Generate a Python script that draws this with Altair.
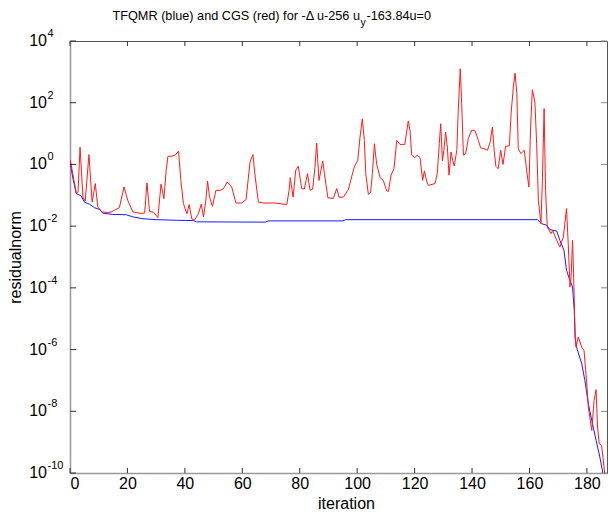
import altair as alt
import pandas as pd

# ---- data (iteration, log10 of residual norm) ----
blue_iter = [0, 1, 2.2, 3.9, 5.0, 6.8, 8.5, 10.3, 11.4, 14.9, 19.6, 21.9, 25.4, 30, 37, 43, 44, 68, 69, 95, 96,
             162.8, 164.2, 166, 167.1, 169.5, 170.6, 172, 172.9, 174.1, 175, 175.6, 175.9, 176.4, 178.2, 179.3,
             180.5, 181.7, 183.2, 184.5, 185.5, 185.8]
blue_exp = [0.1, -0.45, -0.95, -1.02, -1.22, -1.29, -1.40, -1.46, -1.58, -1.62, -1.63, -1.70, -1.76, -1.79, -1.81,
            -1.82, -1.86, -1.87, -1.83, -1.83, -1.79,
            -1.79, -1.92, -1.97, -2.11, -2.16, -2.46, -2.78, -3.43, -3.76, -3.97, -4.73, -5.59, -5.92, -6.46, -7.0,
            -7.75, -8.3, -8.94, -9.48, -9.97, -10.3]

red_iter = [0, 0.4, 2.2, 2.8, 3.5, 4.5, 5.3, 6.6, 7.7, 8.8, 9.7, 11.2, 13.2, 14.3, 15.8, 17.2, 18.8, 20.1, 21.9,
            24.8, 26.0, 26.8, 27.7, 29.1, 30.6, 31.7, 32.7, 33.5, 34.1, 35.5, 36.6, 37.8, 38.6, 39.5, 40.7, 41.5,
            42.4, 43.3, 44.7, 45.7, 46.5, 47.3, 47.9, 48.6, 49.6, 50.8, 52.3, 53.4, 54.8, 56.3, 57.8, 59.8, 61.3,
            62.7, 63.7, 64.5, 65.6, 67.3, 71.4, 75.5, 76.3, 76.7, 77.7, 78.6, 79.5, 80.7, 81.6, 82.7, 83.6, 84.5,
            85.3, 85.9, 86.7, 88.0, 88.6, 89.8, 91.7, 92.9, 93.7, 95.2, 96.9, 99.0, 100.2, 101.0, 101.8, 102.5,
            103.0, 103.9, 104.7, 105.3, 106.0, 106.8, 108, 109.1, 110.3, 110.9, 111.8, 112.8, 113.8, 114.9, 116.6,
            117.8, 118.4, 119.0, 120.1, 120.9, 121.9, 122.8, 123.4, 124.2, 124.8, 127.1, 127.9, 128.6, 129.1,
            129.7, 130.2, 130.8, 131.4, 132.0, 132.7, 133.3, 133.8, 134.7, 135.2, 135.9, 136.4, 137.0, 137.8,
            138.7, 139.9, 141, 142.2, 143.0, 144.5, 145.4, 146.3, 147.1, 147.7, 148.3, 149.1, 150.0, 150.8,
            151.7, 153.0, 153.6, 154.4, 155.0, 155.6, 156.1, 157.0, 158.2, 159.0, 159.8, 160.4, 161.0, 161.9,
            162.5, 163.1, 164.0, 164.5, 165.1, 165.6, 166.2, 167.5, 168.1, 169.5, 170.6, 171.8, 172.9, 173.5,
            174.1, 174.5, 175.0, 175.4, 175.9, 176.2, 177.0, 178.2, 179.0, 179.9, 180.5, 181.7, 182.5, 183.2,
            183.7, 184.3, 185.1, 185.7, 186.3]
red_exp = [0.15, 0.0, -0.95, -0.9, 0.56, -1.06, -1.19, 0.32, -1.22, -0.62, -1.38, -1.54, -1.56, -1.54, -1.47,
           -1.40, -0.73, -1.16, -1.54, -1.59, -1.57, -0.6, -1.52, -1.55, -1.72, -0.64, -1.11, -0.19, 0.26, 0.27,
           0.3, 0.43, -0.52, -1.27, -1.6, -1.3, -1.76, -1.81, -1.6, -1.29, -1.7, -1.16, -0.54, -1.06, -1.36,
           -0.84, -0.84, -0.79, -0.57, -0.73, -1.25, -1.25, -1.14, 0.08, 0.32, -0.41, -1.22, -1.25, -1.25, -1.3,
           -0.84, -0.43, -1.06, -0.19, -0.06, -0.78, -0.8, -0.3, -0.84, -0.8, -0.1, 0.69, -0.52, 0.11, -0.3,
           -1.08, -1.1, -0.78, -1.06, -1.06, -0.82, -0.08, 0.13, 0.89, 1.48, 0.78, -0.3, -0.97, -0.9, -0.3, 0.67,
           0.0, -0.43, -0.52, -0.86, -0.87, -0.35, -0.14, 0.78, 0.65, 0.65, 1.41, 1.11, 0.3, 0.22, 0.3, 0.22,
           -0.52, -0.21, -0.54, -0.68, -0.62, -0.3, 0.67, 1.32, 0.11, 0.46, 1.05, 0.56, -0.35, 0.4, 0.12, -0.05,
           0.46, 1.75, 3.1, 1.97, 0.3, 0.35, 0.84, 1.11, 1.1, 0.78, 0.54, 0.5, 0.46, 0.72, 1.21, 0.46, -0.06,
           -0.14, 0.46, 0.0, 0.59, 0.6, 1.65, 2.51, 2.96, 2.3, 0.51, 0.35, 0.46, -0.19, -0.73, 1.21, 2.42, 2.02,
           0.67, -1.16, -1.92, -0.52, 1.81, -0.84, -2.03, -2.24, -2.14, -2.46, -2.68, -2.35, -1.43, -2.57, -3.97,
           -3.65, -2.46, -3.65, -5.59, -5.92, -5.59, -5.92, -6.03, -7.05, -7.86, -8.62, -7.65, -7.3, -8.51,
           -9.05, -9.1, -9.59, -10.1]

x_ticks = [0, 20, 40, 60, 80, 100, 120, 140, 160, 180]
y_exps = [-10, -8, -6, -4, -2, 0, 2, 4]

title_main = "TFQMR (blue) and CGS (red) for -\u0394 u-256 u"
title_sub = "y"
title_end = "-163.84u=0"

W, H = 537, 432
FONT = "Liberation Sans"

blue = pd.DataFrame({"it": blue_iter, "r": [10 ** e for e in blue_exp]})
red = pd.DataFrame({"it": red_iter, "r": [10 ** e for e in red_exp]})
xt = pd.DataFrame({"t": x_ticks})
yt = pd.DataFrame({"v": [10.0 ** e for e in y_exps], "base": ["10"] * len(y_exps),
                   "exp": [str(e) for e in y_exps]})

xs = alt.Scale(domain=[0, 187], nice=False, zero=False)
ys = alt.Scale(type="log", domain=[1e-10, 1e4], nice=False)

blue_line = alt.Chart(blue).mark_line(color="#1a1aff", strokeWidth=1, clip=True).encode(
    x=alt.X("it:Q", scale=xs, axis=alt.Axis(values=x_ticks, grid=False, ticks=False, labelFontSize=16,
                                             labelFont=FONT, labelColor="black", labelPadding=2,
                                             domainColor="#999999", domainWidth=1.5, title="iteration",
                                             titleFont=FONT, titleFontSize=16, titleFontWeight="normal",
                                             titleColor="black", titleX=276, titleY=30,
                                             titleBaseline="middle")),
    y=alt.Y("r:Q", scale=ys, axis=alt.Axis(labels=False, ticks=False, grid=False, domainColor="#999999",
                                            domainWidth=1.5, title="residualnorm", titleFont=FONT,
                                            titleFontSize=16, titleFontWeight="normal", titleColor="black",
                                            titleX=-55, titleY=216, titleAngle=270, titleAlign="center",
                                            titleBaseline="middle")),
)
red_line = alt.Chart(red).mark_line(color="#ff1a1a", strokeWidth=1, clip=True).encode(
    x=alt.X("it:Q", scale=xs), y=alt.Y("r:Q", scale=ys)
)

tick_col = "#333333"
xt_bot = alt.Chart(xt).mark_rule(color=tick_col, strokeWidth=1).encode(
    x=alt.X("t:Q", scale=xs), y=alt.value(H), y2=alt.value(H - 5))
xt_top = alt.Chart(xt).mark_rule(color=tick_col, strokeWidth=1).encode(
    x=alt.X("t:Q", scale=xs), y=alt.value(0), y2=alt.value(5))
yt_left = alt.Chart(yt).mark_rule(color=tick_col, strokeWidth=1).encode(
    y=alt.Y("v:Q", scale=ys), x=alt.value(0), x2=alt.value(6))
yt_right = alt.Chart(yt).mark_rule(color="#888888", strokeWidth=1).encode(
    y=alt.Y("v:Q", scale=ys), x=alt.value(W), x2=alt.value(W - 6))

ylab_base = alt.Chart(yt).mark_text(align="right", baseline="alphabetic", fontSize=16, font=FONT,
                                    color="black", dy=5).encode(
    y=alt.Y("v:Q", scale=ys), x=alt.value(-23), text="base:N")
ylab_exp = alt.Chart(yt).mark_text(align="left", baseline="alphabetic", fontSize=11, font=FONT,
                                   color="black", dy=-4).encode(
    y=alt.Y("v:Q", scale=ys), x=alt.value(-22.5), text="exp:N")

tdf = pd.DataFrame({"a": [title_main], "b": [title_sub], "c": [title_end]})
t1 = alt.Chart(tdf).mark_text(align="right", baseline="alphabetic", fontSize=12.7, font=FONT,
                              color="black").encode(x=alt.value(290), y=alt.value(-21), text="a:N")
t2 = alt.Chart(tdf).mark_text(align="left", baseline="alphabetic", fontSize=10.5, font=FONT,
                              color="black").encode(x=alt.value(290.5), y=alt.value(-15), text="b:N")
t3 = alt.Chart(tdf).mark_text(align="left", baseline="alphabetic", fontSize=12.7, font=FONT,
                              color="black").encode(x=alt.value(296.5), y=alt.value(-21), text="c:N")

chart = alt.layer(blue_line, red_line, xt_bot, xt_top, yt_left, yt_right, ylab_base, ylab_exp,
                  t1, t2, t3).properties(
    width=W, height=H,
    autosize=alt.AutoSizeParams(type="none"),
    padding={"left": 70, "top": 41, "right": 9, "bottom": 39},
    background="white",
).configure_view(stroke="#555555", strokeWidth=1)

chart.save("out.html", embed_options={"renderer": "svg", "actions": False})
